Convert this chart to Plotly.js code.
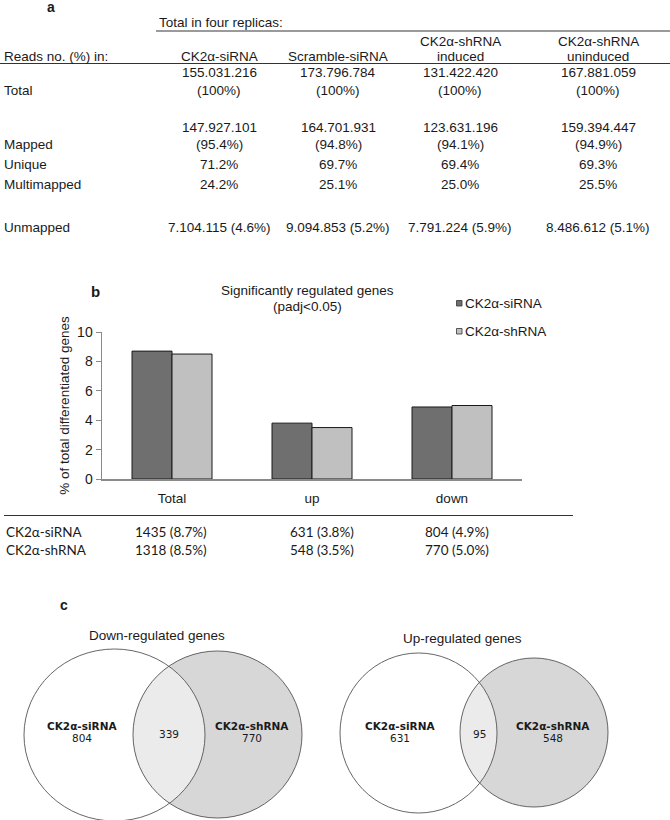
<!DOCTYPE html>
<html><head><meta charset="utf-8">
<script src="https://cdn.plot.ly/plotly-3.0.1.min.js"></script>
<style>html,body{margin:0;padding:0;background:#fff}#chart{width:670px;height:820px}</style>
</head><body><div id="chart"></div>
<script>
// ---------------- data ----------------
// panel a
const readColumns = ['CK2α-siRNA', 'Scramble-siRNA', 'CK2α-shRNA<br>induced', 'CK2α-shRNA<br>uninduced'];
const readRowLabels = ['Total', 'Mapped', 'Unique', 'Multimapped', 'Unmapped'];
const totalReads = ['155.031.216', '173.796.784', '131.422.420', '167.881.059'];
const totalPct = ['(100%)', '(100%)', '(100%)', '(100%)'];
const mappedReads = ['147.927.101', '164.701.931', '123.631.196', '159.394.447'];
const mappedPct = ['(95.4%)', '(94.8%)', '(94.1%)', '(94.9%)'];
const uniquePct = ['71.2%', '69.7%', '69.4%', '69.3%'];
const multimappedPct = ['24.2%', '25.1%', '25.0%', '25.5%'];
const unmappedReads = ['7.104.115 (4.6%)', '9.094.853 (5.2%)', '7.791.224 (5.9%)', '8.486.612 (5.1%)'];
// panel b
const categories = ['Total', 'up', 'down'];
const seriesNames = ['CK2α-siRNA', 'CK2α-shRNA'];
const siRNAPct = [8.7, 3.8, 4.9];
const shRNAPct = [8.5, 3.5, 5.0];
const siRNACounts = [1435, 631, 804];
const shRNACounts = [1318, 548, 770];
// panel c
const vennSetNames = ['CK2α-siRNA', 'CK2α-shRNA'];
const vennDownCounts = [804, 770];
const vennDownOverlap = 339;
const vennUpCounts = [631, 548];
const vennUpOverlap = 95;

// ---------------- layout helpers ----------------
const W = 670, H = 820;
const fx = x => x / W;
const fy = y => 1 - y / H;
const HELV = 'Liberation Sans, Arial, sans-serif';
const CAL = 'Lato, Open Sans, sans-serif';
const DJV = 'DejaVu Sans, sans-serif';
const TXT = '#1a1a1a';
const annotations = [];
const shapes = [];
function ann(text, x, y, o) {
  o = o || {};
  annotations.push({
    text: text, xref: 'paper', yref: 'paper', x: fx(x), y: fy(y),
    xanchor: o.xanchor || 'center', yanchor: 'middle', showarrow: false,
    font: {family: o.family || HELV, size: o.size || 13.5, color: o.color || TXT, weight: o.weight || 'normal'}
  });
}
function line(x0, y0, x1, y1, color, width) {
  shapes.push({type: 'line', xref: 'paper', yref: 'paper', x0: fx(x0), y0: fy(y0), x1: fx(x1), y1: fy(y1),
    line: {color: color, width: width}});
}

// ---------------- panel a ----------------
const colX = [219, 338, 460, 598];
ann('a', 51, 7, {weight: 'bold', size: 14});
ann('Total in four replicas:', 157, 22, {xanchor: 'left'});
line(156, 31, 670, 31, '#9a9a9a', 2);
ann('Reads no. (%) in:', 2, 56, {xanchor: 'left'});
readColumns.forEach((c, i) => {
  const parts = c.split('<br>');
  parts.forEach((p, k) => ann(p, colX[i], 56 - (parts.length - 1 - k) * 15));
});
line(0, 63.5, 670, 63.5, '#333', 1);
const rowY = {Total: [73, 91], Mapped: [127, 145], Unique: [165], Multimapped: [185], Unmapped: [227]};
const rowCells = {
  Total: [totalReads, totalPct], Mapped: [mappedReads, mappedPct],
  Unique: [uniquePct], Multimapped: [multimappedPct], Unmapped: [unmappedReads]
};
readRowLabels.forEach(r => {
  const ys = rowY[r];
  ann(r, 2, ys[ys.length - 1], {xanchor: 'left'});
  rowCells[r].forEach((arr, k) => arr.forEach((v, i) => ann(v, colX[i], ys[k])));
});

// ---------------- panel b ----------------
ann('b', 95, 291, {weight: 'bold', size: 15});
ann('Significantly regulated genes', 307, 290);
ann('(padj<0.05)', 307, 306);
const barColors = ['#6f6f6f', '#c0c0c0'];
const legendY = [303, 331];
seriesNames.forEach((n, i) => {
  shapes.push({type: 'rect', xref: 'paper', yref: 'paper', x0: fx(456.5), x1: fx(462), y0: fy(legendY[i] + 3), y1: fy(legendY[i] - 2.5),
    fillcolor: barColors[i], line: {color: '#333', width: 0.8}});
  ann(n, 463, legendY[i], {xanchor: 'left'});
});
// table under bars
line(4, 515.5, 573, 515.5, '#333', 1);
const bTableX = [133, 288, 423];
const bRows = [[siRNACounts, siRNAPct], [shRNACounts, shRNAPct]];
const bRowY = [532, 550];
seriesNames.forEach((n, r) => {
  ann(n, 4, bRowY[r], {xanchor: 'left', family: CAL, size: 13.5});
  categories.forEach((c, i) => {
    ann(bRows[r][0][i] + ' (' + bRows[r][1][i].toFixed(1) + '%)', bTableX[i], bRowY[r], {xanchor: 'left', family: CAL, size: 13.5});
  });
});

// ---------------- panel c ----------------
ann('c', 64, 605, {weight: 'bold', size: 14});
const venns = [
  {title: 'Down-regulated genes', titleX: 157, titleY: 635, counts: vennDownCounts, overlap: vennDownOverlap,
   A: {cx: 114.5, cy: 735, rx: 90.5, ry: 86}, B: {cx: 217.5, cy: 734.5, rx: 84.5, ry: 83.5},
   labA: 82, labB: 252, labO: 169},
  {title: 'Up-regulated genes', titleX: 462, titleY: 638, counts: vennUpCounts, overlap: vennUpOverlap,
   A: {cx: 418.5, cy: 733, rx: 78.5, ry: 80}, B: {cx: 534, cy: 732.5, rx: 74, ry: 74.5},
   labA: 400, labB: 553, labO: 479}
];
function ellipseShape(e, fill, lineColor) {
  return {type: 'circle', xref: 'paper', yref: 'paper', x0: fx(e.cx - e.rx), x1: fx(e.cx + e.rx),
    y0: fy(e.cy + e.ry), y1: fy(e.cy - e.ry), fillcolor: fill,
    line: {color: lineColor, width: lineColor === 'rgba(0,0,0,0)' ? 0 : 0.9}};
}
function inside(e, x, y) { const dx = (x - e.cx) / e.rx, dy = (y - e.cy) / e.ry; return dx * dx + dy * dy <= 1; }
function lensPath(A, B) {
  const N = 720, pa = [], pb = [];
  for (let k = 0; k < N; k++) {
    const t = -Math.PI + 2 * Math.PI * k / N;
    const x = A.cx + A.rx * Math.cos(t), y = A.cy + A.ry * Math.sin(t);
    if (inside(B, x, y)) pa.push([t, x, y]);
    const s = 2 * Math.PI * k / N;
    const xb = B.cx + B.rx * Math.cos(s), yb = B.cy + B.ry * Math.sin(s);
    if (inside(A, xb, yb)) pb.push([s, xb, yb]);
  }
  pa.sort((a, b) => a[0] - b[0]); pb.sort((a, b) => a[0] - b[0]);
  const pts = pa.concat(pb);
  return 'M' + pts.map(p => fx(p[1]).toFixed(5) + ',' + fy(p[2]).toFixed(5)).join('L') + 'Z';
}
venns.forEach(v => {
  ann(v.title, v.titleX, v.titleY);
  shapes.push(ellipseShape(v.A, '#ffffff', 'rgba(0,0,0,0)'));
  shapes.push(ellipseShape(v.B, '#d7d7d7', 'rgba(0,0,0,0)'));
  shapes.push({type: 'path', xref: 'paper', yref: 'paper', path: lensPath(v.A, v.B), fillcolor: '#ebebeb', line: {width: 0}});
  shapes.push(ellipseShape(v.A, 'rgba(0,0,0,0)', '#555'));
  shapes.push(ellipseShape(v.B, 'rgba(0,0,0,0)', '#555'));
  ann(vennSetNames[0], v.labA, 726, {family: DJV, size: 10.5, weight: 'bold'});
  ann(String(v.counts[0]), v.labA, 738, {family: DJV, size: 10.5});
  ann(vennSetNames[1], v.labB, 726, {family: DJV, size: 10.5, weight: 'bold'});
  ann(String(v.counts[1]), v.labB, 738, {family: DJV, size: 10.5});
  ann(String(v.overlap), v.labO, 734, {family: DJV, size: 10.5});
});

// ---------------- traces ----------------
const traces = [
  {type: 'bar', name: seriesNames[0], x: categories, y: siRNAPct, marker: {color: barColors[0], line: {color: '#1a1a1a', width: 1}}, showlegend: false, hoverinfo: 'skip'},
  {type: 'bar', name: seriesNames[1], x: categories, y: shRNAPct, marker: {color: barColors[1], line: {color: '#1a1a1a', width: 1}}, showlegend: false, hoverinfo: 'skip'}
];

const layout = {
  width: W, height: H, margin: {l: 0, r: 0, t: 0, b: 0}, paper_bgcolor: '#fff', plot_bgcolor: 'rgba(0,0,0,0)',
  font: {family: HELV, size: 13.5, color: TXT},
  barmode: 'group', bargap: 0.4286, bargroupgap: 0, showlegend: false,
  xaxis: {domain: [fx(102), fx(522)], type: 'category', range: [-0.5, 2.5], showline: true, linecolor: '#8a8a8a', linewidth: 1.5,
    ticks: '', showgrid: false, zeroline: false, ticklabelstandoff: 6, tickfont: {family: HELV, size: 13.5, color: TXT}, fixedrange: true},
  yaxis: {domain: [fy(479), fy(332)], range: [0, 10], dtick: 2, showline: true, linecolor: '#8a8a8a', linewidth: 1.5,
    ticks: 'outside', ticklen: 5, tickcolor: '#8a8a8a', showgrid: false, zeroline: false,
    tickfont: {family: HELV, size: 14, color: TXT}, fixedrange: true,
    title: {text: '% of total differentiated genes', standoff: 4, font: {family: HELV, size: 13.5, color: TXT}}},
  annotations: annotations, shapes: shapes
};
Plotly.newPlot('chart', traces, layout, {staticPlot: true, displayModeBar: false});
</script></body></html>
